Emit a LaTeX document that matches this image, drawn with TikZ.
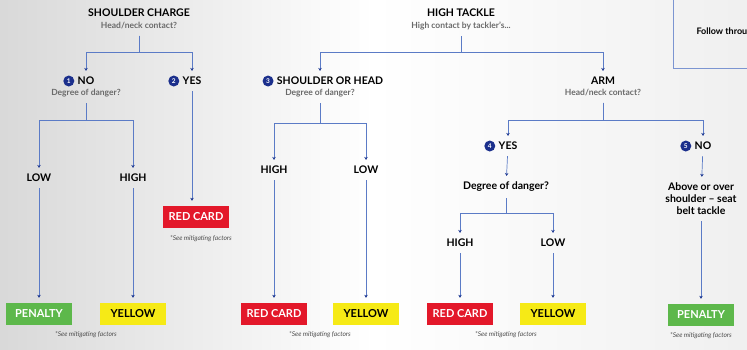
\documentclass[tikz,border=0pt]{standalone}
\usepackage{fontspec}
\setmainfont{Lato}
\usetikzlibrary{positioning,arrows.meta}

\definecolor{linkblue}{HTML}{5B7BC6}
\definecolor{tipblue}{HTML}{1F3A93}
\definecolor{badgeblue}{HTML}{1B2F8C}
\definecolor{cardred}{HTML}{E3182A}
\definecolor{cardyellow}{HTML}{F6EA16}
\definecolor{cardgreen}{HTML}{5DB84B}
\definecolor{subgray}{HTML}{6A6A6A}

\tikzset{%
  title/.style={
    font=\bfseries\fontsize{10.5}{12}\selectfont,
    inner sep=1pt
  },
  sub/.style={
    font=\bfseries\fontsize{8.5}{10}\selectfont,
    text=subgray,
    inner sep=1pt
  },
  answer/.style={
    font=\bfseries\fontsize{10.5}{12}\selectfont,
    inner sep=1pt
  },
  badge/.style={
    circle,
    fill=badgeblue,
    text=white,
    inner sep=0pt,
    minimum size=11pt,
    font=\bfseries\fontsize{6.5}{7}\selectfont
  },
  every card/.style={
    minimum width=66pt,
    minimum height=22pt,
    inner sep=0pt,
    font=\bfseries\fontsize{11}{12}\selectfont
  },
  card red/.style={fill=cardred, text=white},
  card yellow/.style={fill=cardyellow, text=black},
  card green/.style={fill=cardgreen, text=white},
  note/.style={
    font=\itshape\fontsize{6.6}{8}\selectfont,
    text=black!70
  },
  link/.style={
    draw=linkblue,
    line width=0.7pt,
    shorten <=5pt,
    shorten >=5pt,
    -{Stealth[length=3pt, width=3.5pt, color=tipblue]}
  },
}

\begin{document}
\begin{tikzpicture}[x=1pt, y=-1pt]

  \useasboundingbox (0,0) rectangle (747,349);
  \clip (0,0) rectangle (747,349);
  \shade[left color=black!15, right color=black!6, middle color=white] (0,0) rectangle (747,349);

  % box cut off at the top right
  \draw[linkblue!80, line width=0.6pt] (673,-5) -- (673,68) -- (760,68);
  \node[anchor=west, font=\bfseries\fontsize{9}{10}\selectfont] (follow) at (693,32) {Follow through};

  % shoulder charge
  \node[title] (sc) at (139,13) {SHOULDER CHARGE};
  \node[sub] (sc-q) at (139,26) {Head/neck contact?};
  \node[answer] (sc-no) at (86,81) {NO};
  \node[sub] (sc-no-q) at (86,93) {Degree of danger?};
  \node[answer] (sc-yes) at (192,81) {YES};
  \node[answer] (sc-low) at (39,178) {LOW};
  \node[answer] (sc-high) at (133,178) {HIGH};

  % high tackle
  \node[title] (ht) at (461,13) {HIGH TACKLE};
  \node[sub] (ht-q) at (461,26) {High contact by tackler's...};
  \node[answer] (sh) at (330,81) {SHOULDER OR HEAD};
  \node[sub] (sh-q) at (320,93) {Degree of danger?};
  \node[answer] (sh-high) at (274,170) {HIGH};
  \node[answer] (sh-low) at (366,170) {LOW};
  \node[answer] (arm) at (603,81) {ARM};
  \node[sub] (arm-q) at (603,93) {Head/neck contact?};
  \node[answer] (arm-yes) at (508,146) {YES};
  \node[answer] (arm-no) at (703,146) {NO};
  \node[answer] (arm-yes-q) at (506,187) {Degree of danger?};
  \node[answer] (arm-high) at (460,243) {HIGH};
  \node[answer] (arm-low) at (553,243) {LOW};
  \node[answer, align=center] (arm-no-q) at (701,199)
    {Above or over\\shoulder -- seat\\belt tackle};

  % numbered badges
  \foreach \n/\a in {1/sc-no, 2/sc-yes, 3/sh, 4/arm-yes, 5/arm-no}
    \node[badge, left=2pt of \a] (badge-\n) {\n};

  % outcome cards
  \foreach \a/\c/\x/\y/\t in {sc-pen/green/39/314/PENALTY,
                             sc-yel/yellow/133/314/YELLOW,
                             sc-red/red/196/217/RED CARD,
                             sh-red/red/274/314/RED CARD,
                             sh-yel/yellow/366/314/YELLOW,
                             arm-red/red/460/314/RED CARD,
                             arm-yel/yellow/553/314/YELLOW,
                             arm-pen/green/701/315/PENALTY}
    \node[every card/.try, card \c/.try] (\a) at (\x,\y) {\t};

  \foreach \x/\y [count=\i] in {201/239, 86/335, 320/335, 506/335, 701/336}
    \node[note] (note-\i) at (\x,\y) {*See mitigating factors};

  % forks
  \draw[link] (sc-q) -- (sc-q |- 0,52) -| (sc-no);
  \draw[link] (sc-q) -- (sc-q |- 0,52) -| (sc-yes);
  \draw[link] (sc-no-q) -- (sc-no-q |- 0,120) -| (sc-low);
  \draw[link] (sc-no-q) -- (sc-no-q |- 0,120) -| (sc-high);
  \draw[link] (ht-q) -- (ht-q |- 0,52) -| (sh-q |- sh.north);
  \draw[link] (ht-q) -- (ht-q |- 0,52) -| (arm);
  \draw[link] (sh-q) -- (sh-q |- 0,123) -| (sh-high);
  \draw[link] (sh-q) -- (sh-q |- 0,123) -| (sh-low);
  \draw[link] (arm-q) -- (arm-q |- 0,120) -| (arm-yes);
  \draw[link] (arm-q) -- (arm-q |- 0,120) -| (arm-no);
  \draw[link] (arm-yes-q) -- (arm-yes-q |- 0,213) -| (arm-high);
  \draw[link] (arm-yes-q) -- (arm-yes-q |- 0,213) -| (arm-low);

  % straight arrows
  \draw[link] (sc-low) -- (sc-pen);
  \draw[link] (sc-high) -- (sc-yel);
  \draw[link] (sc-yes) -- (sc-yes |- sc-red.north);
  \draw[link] (sh-high) -- (sh-red);
  \draw[link] (sh-low) -- (sh-yel);
  \draw[link] (arm-yes) -- (arm-yes-q);
  \draw[link] (arm-no) -- (arm-no-q);
  \draw[link] (arm-high) -- (arm-red);
  \draw[link] (arm-low) -- (arm-yel);
  \draw[link] (arm-no-q) -- (arm-pen);

\end{tikzpicture}
\end{document}
